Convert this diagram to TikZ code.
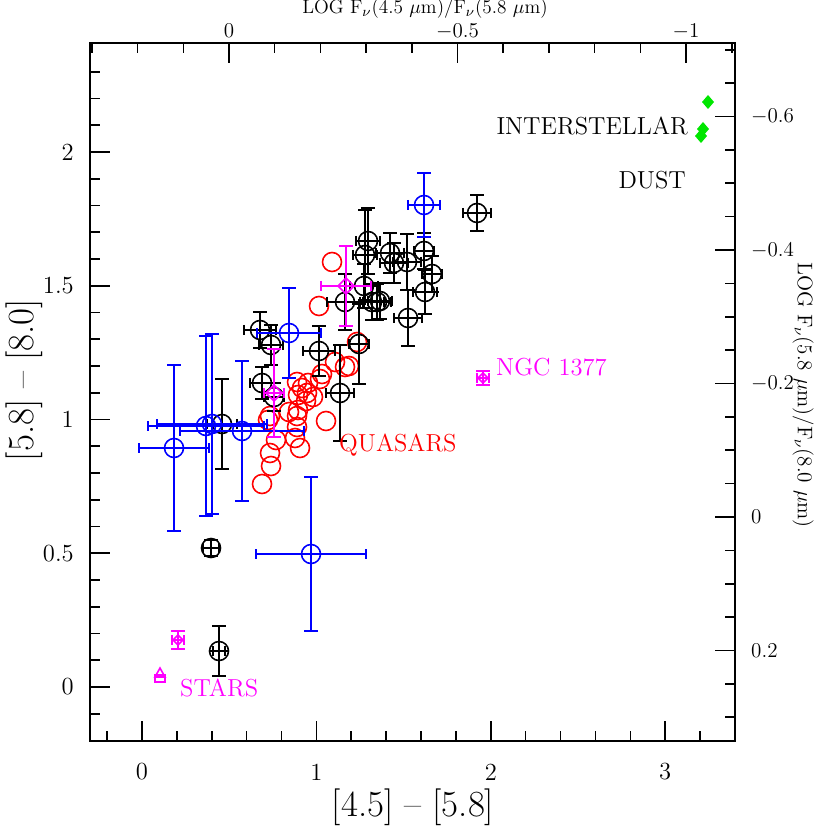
\documentclass[tikz,border=0pt]{standalone}
\usepackage{tikz}
\definecolor{mag}{RGB}{255,0,255}
\definecolor{grn}{RGB}{0,230,0}
\tikzset{
      frame/.style={draw=black, line width=1.2},
      tick/.style={draw=black, line width=0.9},
      quasar/.style={draw=red, line width=0.9},
      galaxy/.style={draw=black, line width=0.9},
      faint/.style={draw=blue, line width=0.9},
      star/.style={draw=mag, line width=0.9},
      lbl/.style={font=\fontsize{14}{16}\selectfont},
}
% point with error bars: style, x, y, ex, ey (pixels)
\newcommand{\errpt}[5]{%
  \draw[#1] (#2-#4,#3) -- (#2+#4,#3) (#2-#4,#3-5) -- (#2-#4,#3+5) (#2+#4,#3-5) -- (#2+#4,#3+5);
  \draw[#1] (#2,#3-#5) -- (#2,#3+#5) (#2-7,#3-#5) -- (#2+7,#3-#5) (#2-7,#3+#5) -- (#2+7,#3+#5);
}
\begin{document}
\begin{tikzpicture}[x=0.02cm, y=-0.02cm]
        \useasboundingbox (0,0) rectangle (830,830);

        % frame and ticks
        \draw[frame] (90,43) rectangle (735,741);
        \foreach \i in {-1,...,17} {
            \draw[tick] ({142+34.88*\i},741) -- ({142+34.88*\i},731);
        }
        \foreach \v in {0,1,2,3} {
            \draw[tick] ({142+174.4*\v},741) -- ({142+174.4*\v},721);
            \node[lbl] (bx\v) at ({142+174.4*\v},772) {\v};
        }
        \foreach \i in {-1,...,23} {
            \draw[tick] (90,{687-26.75*\i}) -- (100,{687-26.75*\i});
        }
        \foreach \v/\t in {0/0,0.5/0.5,1/1,1.5/1.5,2/2} {
            \draw[tick] (90,{687-267.5*\v}) -- (110,{687-267.5*\v});
            \node[lbl, anchor=east] (ly) at (80,{687-267.5*\v}) {\t};
        }
        \foreach \i in {-3,...,11} {
            \draw[tick] ({229+45.7*\i},43) -- ({229+45.7*\i},53);
        }
        \foreach \i/\t in {0/0,5/$-$0.5,10/$-$1} {
            \draw[tick] ({229+45.7*\i},43) -- ({229+45.7*\i},63);
            \node[font=\fontsize{12}{14}\selectfont] (tx\i) at ({229+45.7*\i},31) {\t};
        }
        \foreach \i in {-14,...,6} {
            \draw[tick] (735,{517+33.375*\i}) -- (725,{517+33.375*\i});
        }
        \foreach \i/\t in {-12/$-$0.6,-8/$-$0.4,-4/$-$0.2,0/0,4/0.2} {
            \draw[tick] (735,{517+33.375*\i}) -- (715,{517+33.375*\i});
            \node[font=\fontsize{12}{14}\selectfont, anchor=west] (ry) at (745,{517+33.375*\i}) {\t};
        }

        % axis titles
        \node[font=\fontsize{21}{24}\selectfont] (xt) at (413,807) {[4.5] -- [5.8]};
        \node[font=\fontsize{21}{24}\selectfont, rotate=90] (yt) at (24,380) {[5.8] -- [8.0]};
        \node[font=\fontsize{11}{12}\selectfont] (tt) at (425,9) {LOG F$_\nu$(4.5 $\mu$m)/F$_\nu$(5.8 $\mu$m)};
        \node[font=\fontsize{12}{14}\selectfont, rotate=-90] (rt) at (803,395) {LOG F$_\nu$(5.8 $\mu$m)/F$_\nu$(8.0 $\mu$m)};

        % quasars
        \foreach \x/\y in {332/262,319/306,357/342,335/362,345/367,349/366,322/374,320/379,
                297/382,308/383,302/388,307/393,298/395,313/397,306/401,298/410,289/412,
                297/416,270/416,268/420,326/421,297/427,276/440,295/438,300/448,270/453,
                271/466,262/484} {
            \draw[quasar] (\x,\y) circle (9.5);
        }

        % galaxies
        \foreach \x/\y/\ex/\ey in {477/213/14/18,368/241/12/33,365/255/12/45,390/253/14/20,
                394/263/14/20,407/262/14/28,424/251/10/18,432/274/10/18,425/292/12/22,
                364/286/14/22,377/302/14/18,372/302/12/18,380/301/12/18,408/318/14/28,
                345/302/18/28,359/344/10/40,319/351/16/25,260/330/16/18,271/345/12/20,
                262/383/12/16,274/397/10/14,340/393/14/48,222/424/15/45,211/548/8/8,219/651/6/25} {
            \draw[galaxy] (\x,\y) circle (9.5);
            \draw[galaxy] (\x,\y-9.5) -- (\x,\y+9.5) (\x-9.5,\y) -- (\x+9.5,\y);
            \errpt{galaxy}{\x}{\y}{\ex}{\ey}
        }

        % faint sources
        \foreach \x/\y/\ex/\ey in {424/205/16/32,289/333/32/45,174/448/35/83,206/426/58/90,
                212/424/55/90,242/431/62/70,311/554/55/77} {
            \draw[faint] (\x,\y) circle (9.5);
            \errpt{faint}{\x}{\y}{\ex}{\ey}
        }

        % stars and NGC 1377
        \foreach \x/\y/\ex/\ey/\r in {346/286/25/40/8,274/393/10/44/8,483/378/6/7/5,178/640/6/9/5} {
            \draw[star] (\x-\r,\y) -- (\x,\y-\r) -- (\x+\r,\y) -- (\x,\y+\r) -- cycle;
            \errpt{star}{\x}{\y}{\ex}{\ey}
        }
        \draw[star] (155,677) -- (160,668) -- (165,677) -- cycle;
        \draw[star] (155,675) rectangle (165,682);

        % interstellar dust
        \foreach \x/\y in {708/102,703/129,701/136} {
            \fill[grn] (\x-6,\y) -- (\x,\y-7) -- (\x+6,\y) -- (\x,\y+7) -- cycle;
        }

        % labels
        \node[lbl, text=red, anchor=west] (qso) at (333,445) {QUASARS};
        \node[lbl, text=mag, anchor=west] (ngc) at (490,367) {NGC 1377};
        \node[lbl, text=mag, anchor=west] (stars) at (174,688) {STARS};
        \node[lbl, anchor=east] (ism) at (694,126) {INTERSTELLAR};
        \node[lbl, anchor=east] (dust) at (692,180) {DUST};

    \end{tikzpicture}
\end{document}
